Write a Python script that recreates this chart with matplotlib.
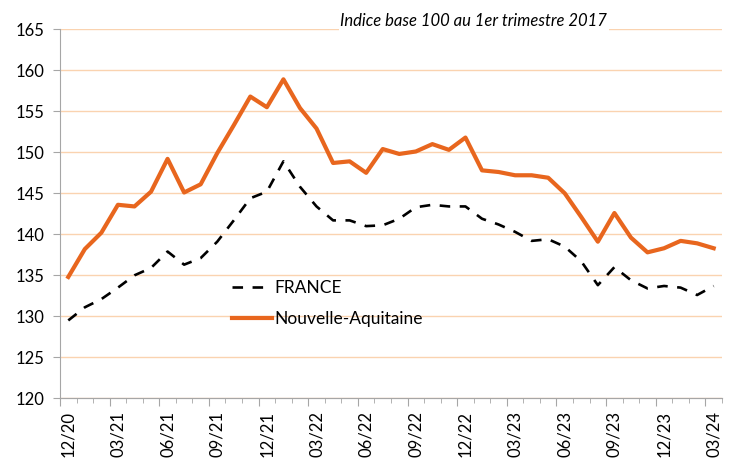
import matplotlib.pyplot as plt
from matplotlib.ticker import FixedLocator

# monthly index, 12/20 -> 03/24 (base 100 = Q1 2017)
months = ["12/20", "01/21", "02/21", "03/21", "04/21", "05/21", "06/21", "07/21", "08/21", "09/21",
          "10/21", "11/21", "12/21", "01/22", "02/22", "03/22", "04/22", "05/22", "06/22", "07/22",
          "08/22", "09/22", "10/22", "11/22", "12/22", "01/23", "02/23", "03/23", "04/23", "05/23",
          "06/23", "07/23", "08/23", "09/23", "10/23", "11/23", "12/23", "01/24", "02/24", "03/24"]

france = [129.5, 131.1, 132.1, 133.5, 135.0, 135.9, 137.9, 136.3, 137.1, 139.1,
          141.7, 144.4, 145.2, 148.9, 145.8, 143.4, 141.7, 141.7, 141.0, 141.1,
          141.9, 143.3, 143.6, 143.4, 143.4, 141.9, 141.2, 140.3, 139.2, 139.4,
          138.5, 136.7, 133.8, 136.0, 134.4, 133.4, 133.7, 133.5, 132.6, 133.7]

nouvelle_aquitaine = [134.8, 138.2, 140.2, 143.6, 143.4, 145.2, 149.2, 145.1, 146.1, 149.9,
                      153.3, 156.8, 155.5, 158.9, 155.4, 152.9, 148.7, 148.9, 147.5, 150.4,
                      149.8, 150.1, 151.0, 150.3, 151.8, 147.8, 147.6, 147.2, 147.2, 146.9,
                      145.0, 142.1, 139.1, 142.6, 139.6, 137.8, 138.3, 139.2, 138.9, 138.3]

orange = "#E8661E"
grid_col = "#FAD3B0"
spine_col = "#A6A6A6"

plt.rcParams['font.family'] = ['Lato', 'DejaVu Sans']

fig = plt.figure(figsize=(7.3, 4.58), dpi=100)
ax = fig.add_axes([0.0822, 0.1303, 0.9068, 0.8057])

x = list(range(len(months)))
ax.plot(x, france, color="black", lw=1.9, dashes=(4, 3.6), label="FRANCE")
ax.plot(x, nouvelle_aquitaine, color=orange, lw=3.0, label="Nouvelle-Aquitaine")

ax.set_xlim(-0.5, len(months) - 0.5)
ax.set_ylim(120, 165)
ax.set_yticks(range(120, 166, 5))
ax.yaxis.grid(True, color=grid_col, lw=1.0)
ax.set_axisbelow(True)

# labels every quarter, tick marks on category boundaries
ax.set_xticks(x[::3])
ax.set_xticklabels(months[::3], rotation=90)
ax.xaxis.set_minor_locator(FixedLocator([i - 0.5 for i in range(len(months) + 1)]))
ax.tick_params(axis="x", which="major", length=0, pad=9, labelsize=12)
ax.tick_params(axis="x", which="minor", length=3.5, color=spine_col)
ax.tick_params(axis="y", length=5, color=spine_col, labelsize=12, pad=6)

sec = ax.secondary_xaxis("bottom")
sec.set_xticks([i - 0.5 for i in range(0, len(months) + 1, 3)])
sec.set_xticklabels([])
sec.tick_params(length=6, color=spine_col)
sec.spines["bottom"].set_color(spine_col)

for s in ["top", "right"]:
    ax.spines[s].set_visible(False)
for s in ["left", "bottom"]:
    ax.spines[s].set_color(spine_col)

ax.text(0.625, 1.0, "Indice base 100 au 1er trimestre 2017", transform=ax.transAxes,
        ha="center", va="bottom", fontsize=12, style="italic",
        bbox=dict(facecolor="white", edgecolor="none", pad=1))

ax.legend(loc="upper left", bbox_to_anchor=(0.26, 0.32), frameon=False,
          borderpad=0, borderaxespad=0,
          fontsize=12.5, handlelength=2.3, handletextpad=0.15, labelspacing=0.85)

fig.savefig("out.png", dpi=100)
